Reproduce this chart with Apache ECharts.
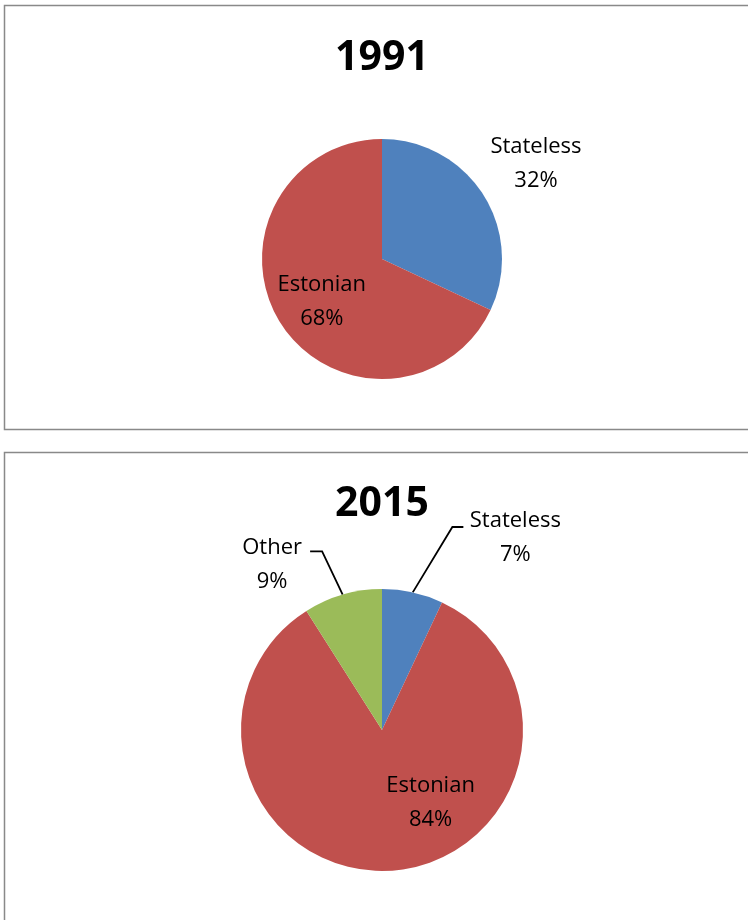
<!DOCTYPE html>
<html>
<head>
<meta charset="utf-8">
<script src="https://cdn.jsdelivr.net/npm/echarts@6/dist/echarts.min.js"></script>
<style>
  html, body { margin: 0; padding: 0; background: #ffffff; }
  #chart { width: 748px; height: 920px; }
</style>
</head>
<body>
<div id="chart"></div>
<script>
// Citizenship shares (%) for the two years shown
const years = ['1991', '2015'];
const categories1991 = ['Stateless', 'Estonian'];
const shares1991 = [32, 68];
const categories2015 = ['Stateless', 'Estonian', 'Other'];
const shares2015 = [7, 84, 9];

const sliceColors = { Stateless: '#4F81BD', Estonian: '#C0504D', Other: '#9BBB59' };
const FONT = '"Open Sans", "Liberation Sans", sans-serif';

// Per-panel layout of each pie
const panels = [
  { center: [382, 259], radius: 120, titleY: 58, frame: { y: 5.5, h: 424 } },
  { center: [382, 730], radius: 141, titleY: 504, frame: { y: 452.5, h: 520 } }
];

// Label placement per slice: position, leader line lengths, text gap, text shift, leader bend
const labelPlacement = [
  {
    Stateless: { position: 'outside', line: false, length: 60, length2: 0, gap: 2, shift: [0, 1], bend: 0 },
    Estonian: { position: 'inside', shift: [-7, 9] }
  },
  {
    Stateless: { position: 'outside', line: true, length: 67, length2: 36, gap: 52, shift: [0, 11], bend: 25 },
    Estonian: { position: 'inside', shift: [44, -1] },
    Other: { position: 'outside', line: true, length: 45, length2: 20, gap: 38, shift: [0, 13], bend: -8 }
  }
];

function buildData(categories, values, placement) {
  return categories.map(function (name, i) {
    const p = placement[name];
    const item = {
      name: name,
      value: values[i],
      itemStyle: { color: sliceColors[name] },
      label: { position: p.position }
    };
    if (p.position === 'outside') {
      item.label.distanceToLabelLine = p.gap;
      item.labelLine = {
        show: p.line,
        length: p.length,
        length2: p.length2,
        smooth: false,
        lineStyle: { color: '#000000', width: 1.8 }
      };
    }
    return item;
  });
}

const seriesData = [
  { categories: categories1991, values: shares1991 },
  { categories: categories2015, values: shares2015 }
];

const series = seriesData.map(function (d, si) {
  return {
    type: 'pie',
    center: panels[si].center,
    radius: panels[si].radius,
    startAngle: 90,
    clockwise: true,
    avoidLabelOverlap: false,
    silent: true,
    label: {
      show: true,
      formatter: function (p) { return p.name + '\n' + p.value + '%'; },
      fontFamily: FONT,
      fontSize: 22,
      lineHeight: 34,
      color: '#000000'
    },
    emphasis: { disabled: true },
    data: buildData(d.categories, d.values, labelPlacement[si]),
    labelLayout: function (params) {
      const name = d.categories[params.dataIndex];
      const p = labelPlacement[si][name];
      const out = { align: 'center', dx: p.shift[0], dy: p.shift[1] };
      if (params.labelLinePoints && p.line) {
        const pts = params.labelLinePoints.map(function (pt) { return [pt[0], pt[1]]; });
        pts[1][0] += p.bend || 0;
        out.labelLinePoints = pts;
      }
      return out;
    }
  };
});

const graphics = [];
panels.forEach(function (pn, i) {
  graphics.push({
    type: 'rect',
    silent: true,
    shape: { x: 4.5, y: pn.frame.y, width: 780, height: pn.frame.h },
    style: { fill: null, stroke: '#898989', lineWidth: 1.5 }
  });
  graphics.push({
    type: 'text',
    silent: true,
    x: pn.center[0],
    y: pn.titleY,
    style: {
      text: years[i],
      fontFamily: FONT,
      fontWeight: 'bold',
      fontSize: 41,
      fill: '#000000',
      textAlign: 'center',
      textVerticalAlign: 'middle'
    }
  });
});

const chart = echarts.init(document.getElementById('chart'), null, { renderer: 'canvas' });
chart.setOption({
  animation: false,
  backgroundColor: '#ffffff',
  graphic: graphics,
  series: series
});
</script>
</body>
</html>
